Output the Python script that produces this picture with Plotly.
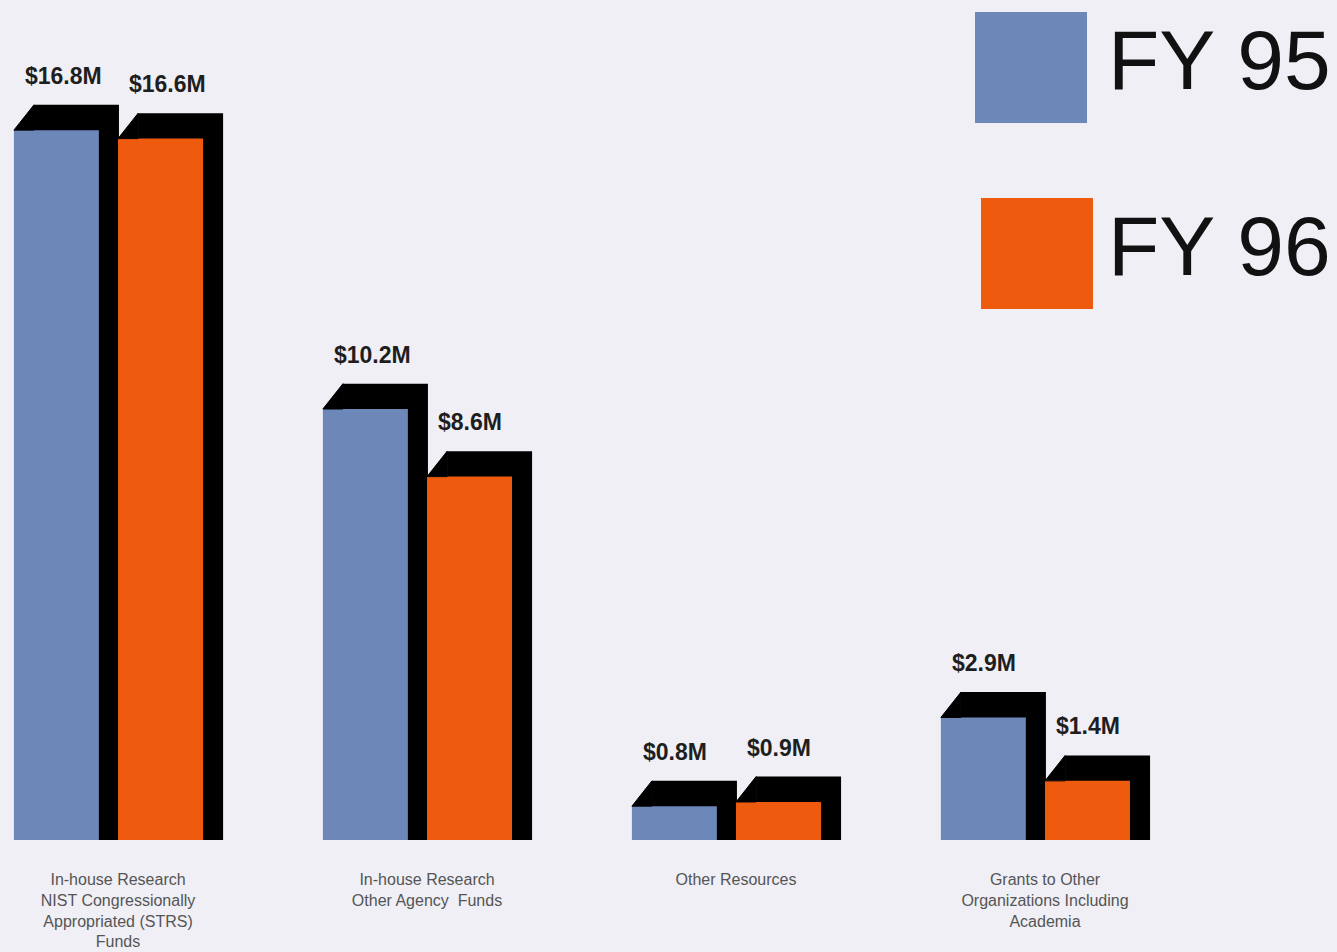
import plotly.graph_objects as go

categories = [
    "In-house Research<br>NIST Congressionally<br>Appropriated (STRS)<br>Funds",
    "In-house Research<br>Other Agency  Funds",
    "Other Resources",
    "Grants to Other<br>Organizations Including<br>Academia",
]
fy95 = [16.8, 10.2, 0.8, 2.9]
fy96 = [16.6, 8.6, 0.9, 1.4]
series_names = ["FY 95", "FY 96"]

BLUE = "#6d87b8"
ORANGE = "#ee5a0e"
BG = "#efeff5"
W = 0.275          # bar width (x units)
OFF95 = -0.337     # left edge offset of FY95 bars
OFF96 = 0.0        # left edge offset of FY96 bars
DX = 0.065         # depth shift (x units)
DY = 0.6           # depth shift (y units)

FW, FH = 1337, 952
MB = 112
PH = FH - MB       # plot-area height in px

xs = list(range(len(categories)))
fig = go.Figure()

# dark depth boxes
for vals, off in [(fy95, OFF95), (fy96, OFF96)]:
    fig.add_trace(go.Bar(x=xs, y=[v + DY for v in vals], offset=off + DX, width=W,
                         marker=dict(color="black", line=dict(width=0)),
                         showlegend=False, hoverinfo="skip"))
    tx, ty = [], []
    for i, v in zip(xs, vals):
        l = i + off
        tx += [l, l + DX, l + DX, l, None]
        ty += [v, v + DY, v, v, None]
    fig.add_trace(go.Scatter(x=tx, y=ty, mode="lines", fill="toself", fillcolor="black",
                             line=dict(width=1, color="black"), showlegend=False,
                             hoverinfo="skip"))

# front faces
for vals, off, col, name in [(fy95, OFF95, BLUE, series_names[0]),
                             (fy96, OFF96, ORANGE, series_names[1])]:
    fig.add_trace(go.Bar(x=xs, y=vals, offset=off, width=W, name=name,
                         marker=dict(color=col, line=dict(width=0)), showlegend=False))
    for i, v in zip(xs, vals):
        fig.add_annotation(x=i + off, y=v + DY, text=f"${v}M", showarrow=False,
                           xanchor="left", yanchor="bottom", yshift=14, xshift=9,
                           font=dict(family="Liberation Sans, Arial", size=23, color="#1e1e1e",
                                     weight="bold"))

# manual legend (paper coords relative to plot area)
for k, (name, col) in enumerate(zip(series_names, [BLUE, ORANGE])):
    y0 = 12 + k * 186
    x0 = 975 + k * 6
    fig.add_shape(type="rect", xref="paper", yref="paper",
                  x0=x0 / FW, x1=(x0 + 112) / FW,
                  y0=1 - (y0 + 111) / PH, y1=1 - y0 / PH,
                  fillcolor=col, line=dict(width=0))
    fig.add_annotation(xref="paper", yref="paper", x=1106 / FW, y=1 - (y0 + 48) / PH,
                       text=name, showarrow=False, xanchor="left", yanchor="middle",
                       font=dict(family="Liberation Sans, Arial", size=84, color="#111"))

fig.update_layout(
    width=FW, height=FH,
    margin=dict(l=0, r=0, t=0, b=MB),
    paper_bgcolor=BG, plot_bgcolor=BG,
    barmode="overlay",
    xaxis=dict(range=[-0.382, 3.945], tickvals=xs, ticktext=categories,
               showgrid=False, zeroline=False, showline=False, ticks="",
               ticklabelstandoff=28,
               tickfont=dict(family="Liberation Sans, Arial", size=16, color="#555")),
    yaxis=dict(range=[0, 19.88], visible=False, showgrid=False),
)

fig.write_html(
    "out.html",
    config={"displayModeBar": False},
    post_script="document.body.style.margin='0';document.body.style.background='%s';" % BG,
)
